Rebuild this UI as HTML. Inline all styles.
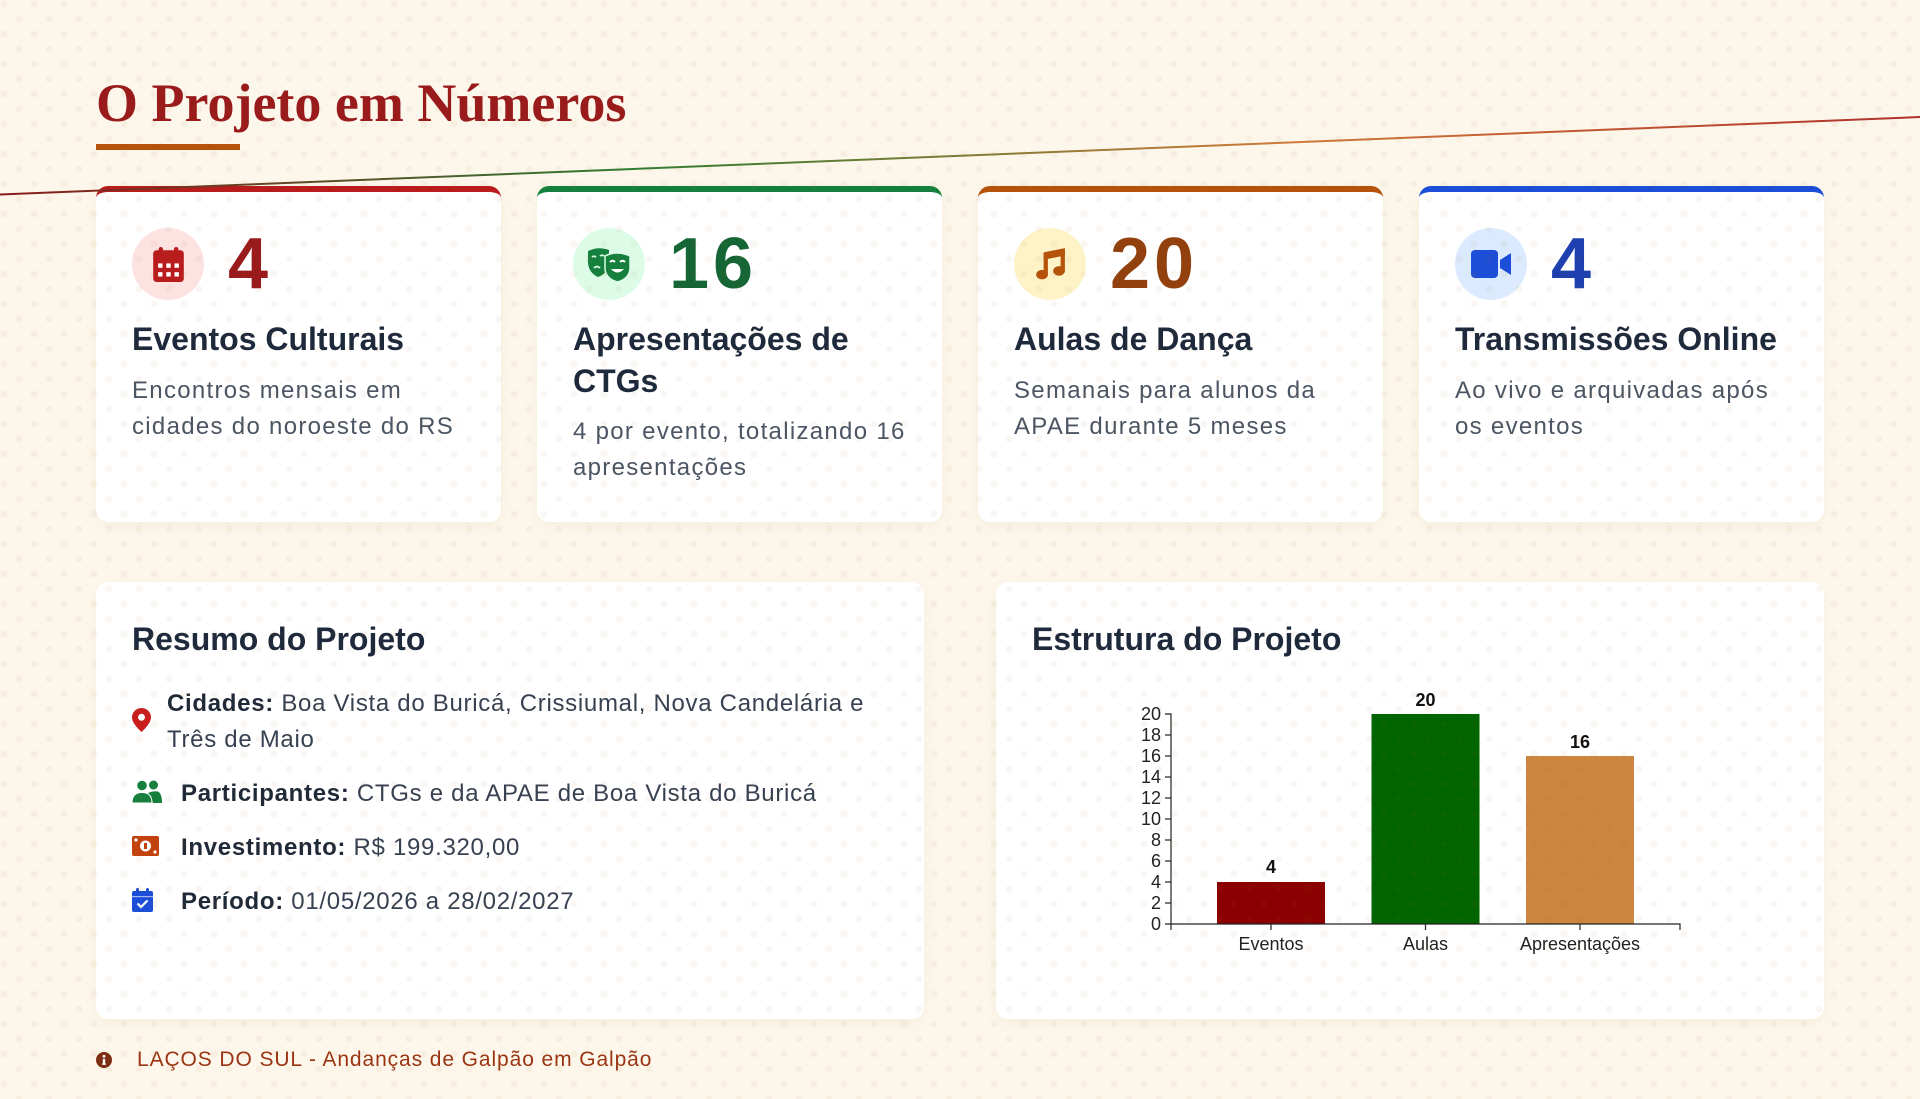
<!DOCTYPE html>
<html lang="pt-BR">
<head>
<meta charset="utf-8">
<style>
  html,body{margin:0;padding:0;}
  body{width:1920px;height:1099px;position:relative;overflow:hidden;background:#fdf7eb;font-family:"Liberation Sans",Arial,sans-serif;}
  .dots{position:absolute;left:0;top:0;width:1920px;height:1099px;pointer-events:none;z-index:50;
    background-image:radial-gradient(circle at 4px 4px, rgba(150,110,50,0.06) 3px, rgba(150,110,50,0) 3.8px),
                     radial-gradient(circle at 19px 19px, rgba(150,110,50,0.06) 3px, rgba(150,110,50,0) 3.8px);
    background-size:30px 30px;}
  .title{position:absolute;left:96px;top:76px;margin:0;font-family:"Liberation Serif","Times New Roman",serif;font-weight:bold;font-size:54px;line-height:54px;color:#991b1b;white-space:nowrap;}
  .uline{position:absolute;left:96px;top:144px;width:144px;height:6px;background:#b45309;}
  .card{position:absolute;top:186px;width:405px;height:336px;box-sizing:border-box;background:#fff;border-radius:12px;border-top:6px solid #b91c1c;padding:36px;box-shadow:0 4px 14px rgba(120,80,30,0.06);}
  .row{display:flex;align-items:center;height:72px;}
  .circ{width:72px;height:72px;border-radius:50%;display:flex;align-items:center;justify-content:center;flex:none;}
  .num{margin-left:24px;font-size:72px;line-height:72px;font-weight:bold;letter-spacing:4px;}
  .card h3{margin:19px 0 0 0;font-size:32px;line-height:41.6px;font-weight:bold;color:#1e293b;white-space:nowrap;}
  .card p{margin:12px 0 0 0;font-size:24px;line-height:36px;color:#4b5563;letter-spacing:1.3px;white-space:nowrap;}
  .panel{position:absolute;top:582px;width:828px;height:437px;box-sizing:border-box;background:#fff;border-radius:12px;padding:37px 36px 36px 36px;box-shadow:0 4px 14px rgba(120,80,30,0.06);}
  .panel h3{margin:0;font-size:32px;line-height:41.6px;font-weight:bold;color:#1e293b;white-space:nowrap;}
  .item{position:absolute;font-size:24px;line-height:36px;color:#374151;letter-spacing:0.7px;white-space:nowrap;}
  .item b{color:#1f2937;}
  .ico{position:absolute;}
  .foot{position:absolute;left:137px;top:1045px;font-size:21px;line-height:30px;color:#9a3412;letter-spacing:0.9px;white-space:nowrap;}
</style>
</head>
<body>

<h1 class="title">O Projeto em Números</h1>
<div class="uline"></div>

<!-- Card 1 -->
<div class="card" style="left:96px;border-top-color:#b91c1c;">
  <div class="row">
    <div class="circ" style="background:#fde2e2;">
      <svg width="31" height="35" viewBox="0 0 28 32">
        <rect x="0" y="3" width="28" height="29" rx="3" fill="#b91c1c"/>
        <rect x="5" y="0" width="4" height="7" rx="2" fill="#b91c1c"/>
        <rect x="19" y="0" width="4" height="7" rx="2" fill="#b91c1c"/>
        <rect x="4.5" y="15" width="4" height="4" fill="#fff"/>
        <rect x="12" y="15" width="4" height="4" fill="#fff"/>
        <rect x="19.5" y="15" width="4" height="4" fill="#fff"/>
        <rect x="4.5" y="23" width="4" height="4" fill="#fff"/>
        <rect x="12" y="23" width="4" height="4" fill="#fff"/>
        <rect x="19.5" y="23" width="4" height="4" fill="#fff"/>
      </svg>
    </div>
    <div class="num" style="color:#991b1b;">4</div>
  </div>
  <h3>Eventos Culturais</h3>
  <p>Encontros mensais em<br>cidades do noroeste do RS</p>
</div>

<!-- Card 2 -->
<div class="card" style="left:537px;border-top-color:#15803d;">
  <div class="row">
    <div class="circ" style="background:#dcfce7;">
      <svg width="46" height="36" viewBox="0 0 46 36">
        <path d="M2 5 Q12 0 23 4 L23 18 Q21 28 12 31 Q3 27 2 17 Z" fill="#15803d"/>
        <path d="M6 11 q2 -1.5 4 0" stroke="#dcfce7" stroke-width="1.8" fill="none"/>
        <path d="M14 10 q2 -1.5 4 0" stroke="#dcfce7" stroke-width="1.8" fill="none"/>
        <path d="M8 22 q3 -3 6 0" stroke="#dcfce7" stroke-width="1.8" fill="none"/>
        <path d="M19 10 Q31 4 44 10 L44 23 Q43 33 31.5 36 Q20 33 19 23 Z" fill="#15803d" stroke="#dcfce7" stroke-width="1.5"/>
        <path d="M24 16 q2.5 -2.5 5 0" stroke="#fff" stroke-width="2" fill="none"/>
        <path d="M34 16 q2.5 -2.5 5 0" stroke="#fff" stroke-width="2" fill="none"/>
        <path d="M25 23 Q31.5 30 38 23 Z" fill="#fff"/>
      </svg>
    </div>
    <div class="num" style="color:#166534;">16</div>
  </div>
  <h3>Apresentações de<br>CTGs</h3>
  <p>4 por evento, totalizando 16<br>apresentações</p>
</div>

<!-- Card 3 -->
<div class="card" style="left:978px;border-top-color:#b45309;">
  <div class="row">
    <div class="circ" style="background:#fef3c7;">
      <svg width="34" height="34" viewBox="0 0 32 32">
        <ellipse cx="8.5" cy="26" rx="5.5" ry="4.5" fill="#b45309"/>
        <ellipse cx="24.5" cy="22.5" rx="5.5" ry="4.5" fill="#b45309"/>
        <rect x="10" y="6" width="4" height="20" fill="#b45309"/>
        <rect x="26" y="2" width="4" height="21" fill="#b45309"/>
        <polygon points="10,5 30,1 30,8 10,12" fill="#b45309"/>
      </svg>
    </div>
    <div class="num" style="color:#92400e;">20</div>
  </div>
  <h3>Aulas de Dança</h3>
  <p>Semanais para alunos da<br>APAE durante 5 meses</p>
</div>

<!-- Card 4 -->
<div class="card" style="left:1419px;border-top-color:#1d4ed8;">
  <div class="row">
    <div class="circ" style="background:#dbeafe;">
      <svg width="40" height="28" viewBox="0 0 40 28">
        <rect x="0" y="0" width="27" height="28" rx="4" fill="#1d4ed8"/>
        <polygon points="29,10 40,3 40,25 29,18" fill="#1d4ed8"/>
      </svg>
    </div>
    <div class="num" style="color:#1e40af;">4</div>
  </div>
  <h3>Transmissões Online</h3>
  <p>Ao vivo e arquivadas após<br>os eventos</p>
</div>

<!-- Resumo panel -->
<div class="panel" style="left:96px;">
  <h3>Resumo do Projeto</h3>
  <svg class="ico" style="left:36px;top:126px;" width="19" height="24" viewBox="0 0 19 24">
    <path d="M9.5 0 C4.3 0 0 4.2 0 9.4 C0 16 9.5 24 9.5 24 C9.5 24 19 16 19 9.4 C19 4.2 14.7 0 9.5 0 Z" fill="#c81e1e"/>
    <circle cx="9.5" cy="9.3" r="3.5" fill="#fff"/>
  </svg>
  <div class="item" style="left:71px;top:104px;"><b>Cidades:</b> Boa Vista do Buricá, Crissiumal, Nova Candelária e<br>Três de Maio</div>

  <svg class="ico" style="left:36px;top:198px;" width="30" height="23" viewBox="0 0 30 23">
    <circle cx="21.5" cy="5" r="4.5" fill="#15803d"/>
    <path d="M16 13 Q21 10.5 26 11.5 Q30 13.5 30 23 L21 23 Z" fill="#15803d"/>
    <circle cx="10" cy="5.5" r="5.3" fill="#15803d" stroke="#fff" stroke-width="1"/>
    <path d="M0 23 Q0 12.5 10 12.5 Q20 12.5 20 23 Z" fill="#15803d" stroke="#fff" stroke-width="1"/>
  </svg>
  <div class="item" style="left:85px;top:194px;"><b>Participantes:</b> CTGs e da APAE de Boa Vista do Buricá</div>

  <svg class="ico" style="left:36px;top:254px;" width="27" height="20" viewBox="0 0 27 20">
    <rect x="0" y="0" width="27" height="20" rx="2" fill="#c2410c"/>
    <circle cx="13.5" cy="10" r="5.5" fill="#fff"/>
    <rect x="12" y="7" width="3" height="6" fill="#c2410c"/>
    <circle cx="4" cy="4" r="1.6" fill="#fff"/>
    <circle cx="23" cy="16" r="1.6" fill="#fff"/>
  </svg>
  <div class="item" style="left:85px;top:248px;"><b>Investimento:</b> R$ 199.320,00</div>

  <svg class="ico" style="left:36px;top:306px;" width="21" height="24" viewBox="0 0 21 24">
    <rect x="0" y="3" width="21" height="21" rx="2" fill="#1d4ed8"/>
    <rect x="4" y="0" width="3" height="6" rx="1.5" fill="#1d4ed8"/>
    <rect x="14" y="0" width="3" height="6" rx="1.5" fill="#1d4ed8"/>
    <rect x="0" y="8" width="21" height="1.2" fill="#fff" opacity="0.6"/>
    <path d="M5.5 15.5 L9 19 L15.5 12.5" stroke="#fff" stroke-width="2.2" fill="none"/>
  </svg>
  <div class="item" style="left:85px;top:302px;"><b>Período:</b> 01/05/2026 a 28/02/2027</div>
</div>

<!-- Chart panel -->
<div class="panel" style="left:996px;">
  <h3>Estrutura do Projeto</h3>
</div>

<svg style="position:absolute;left:1100px;top:680px;z-index:10;" width="620" height="290" viewBox="0 0 620 290" font-family="Liberation Sans, Arial, sans-serif">
  <rect x="117" y="202" width="108" height="42" fill="#8b0000"/>
  <rect x="271.5" y="34" width="108" height="210" fill="#006400"/>
  <rect x="426" y="76" width="108" height="168" fill="#cd853f"/>
  <g font-weight="bold" font-size="18" fill="#111" text-anchor="middle">
    <text x="171" y="193">4</text>
    <text x="325.5" y="26">20</text>
    <text x="480" y="68">16</text>
  </g>
  <path d="M65 34 H71 V244 H65" stroke="#222" stroke-width="1.2" fill="none"/>
  <g stroke="#222" stroke-width="1.2">
    <line x1="65" y1="55" x2="71" y2="55"/>
    <line x1="65" y1="76" x2="71" y2="76"/>
    <line x1="65" y1="97" x2="71" y2="97"/>
    <line x1="65" y1="118" x2="71" y2="118"/>
    <line x1="65" y1="139" x2="71" y2="139"/>
    <line x1="65" y1="160" x2="71" y2="160"/>
    <line x1="65" y1="181" x2="71" y2="181"/>
    <line x1="65" y1="202" x2="71" y2="202"/>
    <line x1="65" y1="223" x2="71" y2="223"/>
  </g>
  <g font-size="18" fill="#222" text-anchor="end">
    <text x="61" y="40">20</text>
    <text x="61" y="61">18</text>
    <text x="61" y="82">16</text>
    <text x="61" y="103">14</text>
    <text x="61" y="124">12</text>
    <text x="61" y="145">10</text>
    <text x="61" y="166">8</text>
    <text x="61" y="187">6</text>
    <text x="61" y="208">4</text>
    <text x="61" y="229">2</text>
    <text x="61" y="250">0</text>
  </g>
  <path d="M71 250 V244 H580 V250" stroke="#222" stroke-width="1.2" fill="none"/>
  <g stroke="#222" stroke-width="1.2">
    <line x1="171" y1="244" x2="171" y2="250"/>
    <line x1="325.5" y1="244" x2="325.5" y2="250"/>
    <line x1="480" y1="244" x2="480" y2="250"/>
  </g>
  <g font-size="18" fill="#222" text-anchor="middle">
    <text x="171" y="270">Eventos</text>
    <text x="325.5" y="270">Aulas</text>
    <text x="480" y="270">Apresentações</text>
  </g>
</svg>

<svg style="position:absolute;left:0;top:0;z-index:20;" width="1920" height="220" viewBox="0 0 1920 220">
  <defs>
    <linearGradient id="lg" gradientUnits="userSpaceOnUse" x1="0" y1="0" x2="1920" y2="0">
      <stop offset="0" stop-color="#8b1a1a"/>
      <stop offset="0.33" stop-color="#2e7d32"/>
      <stop offset="0.67" stop-color="#d07a3a"/>
      <stop offset="1" stop-color="#b0302a"/>
    </linearGradient>
  </defs>
  <line x1="0" y1="194.5" x2="1920" y2="117" stroke="url(#lg)" stroke-width="2"/>
</svg>

<svg style="position:absolute;left:96px;top:1052px;" width="16" height="16" viewBox="0 0 16 16">
  <circle cx="8" cy="8" r="8" fill="#7c2d12"/>
  <circle cx="8" cy="4.3" r="1.4" fill="#fff"/>
  <rect x="6.8" y="6.8" width="2.4" height="5.5" fill="#fff"/>
  <rect x="6" y="11.5" width="4" height="1.3" fill="#fff"/>
</svg>
<div class="foot">LAÇOS DO SUL - Andanças de Galpão em Galpão</div>

<div class="dots"></div>
</body>
</html>
